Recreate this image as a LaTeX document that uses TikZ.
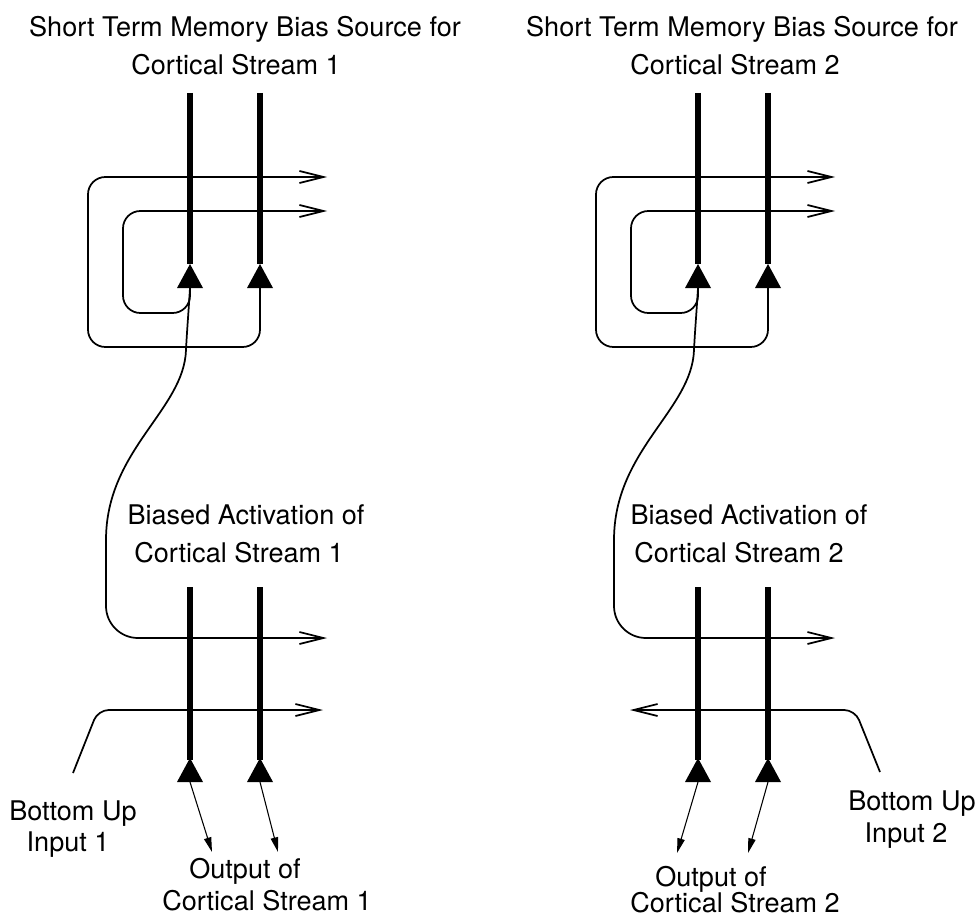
\documentclass[tikz,border=0pt]{standalone}
\usepackage{fontspec}
\setmainfont{TeX Gyre Heros}
\usetikzlibrary{arrows.meta}

\tikzset{
  axon/.style={line width=3.8pt},
  fibre/.style={line width=1.3pt},
  proj/.style={fibre, -{Straight Barb[length=18pt,width=9pt,line width=1.3pt]}},
  outarrow/.style={line width=0.8pt, -{Triangle[length=11pt,width=5.5pt]}},
  lbl/.style={font=\fontsize{20.3}{24}\selectfont, anchor=base, inner sep=0pt},
}
% filled synapse triangle whose base centre is #1
\newcommand\synapse[1]{\fill (#1) ++(-13,0) -- ++(13,-24) -- ++(13,24) -- cycle;}

\begin{document}
\begin{tikzpicture}[x=0.75pt,y=-0.75pt]
\useasboundingbox (0,0) rectangle (977,916);

% ---------------- stream 1 ----------------
% short term memory source
\coordinate (La1top) at (190,93);   \coordinate (La2top) at (260,93);
\coordinate (La1tip) at (190,264);  \coordinate (La2tip) at (260,264);
\coordinate (Ls1) at (190,288);     \coordinate (Ls2) at (260,288);
\coordinate (Lp1) at (327,177);     \coordinate (Lp2) at (327,211);
\draw[axon] (La1top) -- (La1tip);
\draw[axon] (La2top) -- (La2tip);
\synapse{Ls1} \synapse{Ls2}
\draw[proj, rounded corners=13pt] (Ls2) -- (260,347) -- (88,347) -- (88,177) -- (Lp1);
\draw[proj, rounded corners=13pt] (Ls1) -- (190,313) -- (123,313) -- (123,211) -- (Lp2);

% biased activation
\coordinate (Lb1top) at (190,587);  \coordinate (Lb2top) at (260,587);
\coordinate (Lb1tip) at (190,760);  \coordinate (Lb2tip) at (260,760);
\coordinate (Lt1) at (190,782);     \coordinate (Lt2) at (260,782);
\coordinate (Lq1) at (327,638);     \coordinate (Lq2) at (323,710);
\coordinate (Lin) at (73,773);
\coordinate (Lo1) at (212,852);     \coordinate (Lo2) at (278,852);
\draw[axon] (Lb1top) -- (Lb1tip);
\draw[axon] (Lb2top) -- (Lb2tip);
\synapse{Lt1} \synapse{Lt2}
\draw[proj] (Ls1) .. controls (188,320) and (187,330) .. (186,350)
  .. controls (184,410) and (106,450) .. (106,540)
  [rounded corners=24pt] -- (106,638) -- (Lq1);
\draw[proj, rounded corners=8pt] (Lin) -- (98,710) -- (Lq2);
\draw[outarrow] (Lt1) -- (Lo1);
\draw[outarrow] (Lt2) -- (Lo2);

\node[lbl] (Lh1) at (245,37) {Short Term Memory Bias Source for};
\node[lbl] (Lh2) at (236,75) {Cortical Stream 1};
\node[lbl] (Lm1) at (246,524) {Biased Activation of};
\node[lbl] (Lm2) at (239,562) {Cortical Stream 1};
\node[lbl] (Li1) at (73,820) {Bottom Up};
\node[lbl] (Li2) at (68,851) {Input 1};
\node[lbl] (Lf1) at (245,878) {Output of};
\node[lbl] (Lf2) at (267,910) {Cortical Stream 1};

% ---------------- stream 2 ----------------
\coordinate (Ra1top) at (698,93);   \coordinate (Ra2top) at (768,93);
\coordinate (Ra1tip) at (698,264);  \coordinate (Ra2tip) at (768,264);
\coordinate (Rs1) at (698,288);     \coordinate (Rs2) at (768,288);
\coordinate (Rp1) at (835,177);     \coordinate (Rp2) at (835,211);
\draw[axon] (Ra1top) -- (Ra1tip);
\draw[axon] (Ra2top) -- (Ra2tip);
\synapse{Rs1} \synapse{Rs2}
\draw[proj, rounded corners=13pt] (Rs2) -- (768,347) -- (596,347) -- (596,177) -- (Rp1);
\draw[proj, rounded corners=13pt] (Rs1) -- (698,313) -- (631,313) -- (631,211) -- (Rp2);

\coordinate (Rb1top) at (698,587);  \coordinate (Rb2top) at (768,587);
\coordinate (Rb1tip) at (698,760);  \coordinate (Rb2tip) at (768,760);
\coordinate (Rt1) at (698,782);     \coordinate (Rt2) at (768,782);
\coordinate (Rq1) at (835,638);     \coordinate (Rq2) at (630,710);
\coordinate (Rin) at (880,772);
\coordinate (Ro1) at (677,853);     \coordinate (Ro2) at (748,853);
\draw[axon] (Rb1top) -- (Rb1tip);
\draw[axon] (Rb2top) -- (Rb2tip);
\synapse{Rt1} \synapse{Rt2}
\draw[proj] (Rs1) .. controls (696,320) and (695,330) .. (694,350)
  .. controls (692,410) and (614,450) .. (614,540)
  [rounded corners=24pt] -- (614,638) -- (Rq1);
\draw[proj, rounded corners=8pt] (Rin) -- (855,710) -- (Rq2);
\draw[outarrow] (Rt1) -- (Ro1);
\draw[outarrow] (Rt2) -- (Ro2);

\node[lbl] (Rh1) at (742,37) {Short Term Memory Bias Source for};
\node[lbl] (Rh2) at (735,75) {Cortical Stream 2};
\node[lbl] (Rm1) at (749,524) {Biased Activation of};
\node[lbl] (Rm2) at (739,562) {Cortical Stream 2};
\node[lbl] (Ri1) at (912,810) {Bottom Up};
\node[lbl] (Ri2) at (906,842) {Input 2};
\node[lbl] (Rf1) at (711,886) {Output of};
\node[lbl] (Rf2) at (735,912) {Cortical Stream 2};
\end{tikzpicture}
\end{document}
